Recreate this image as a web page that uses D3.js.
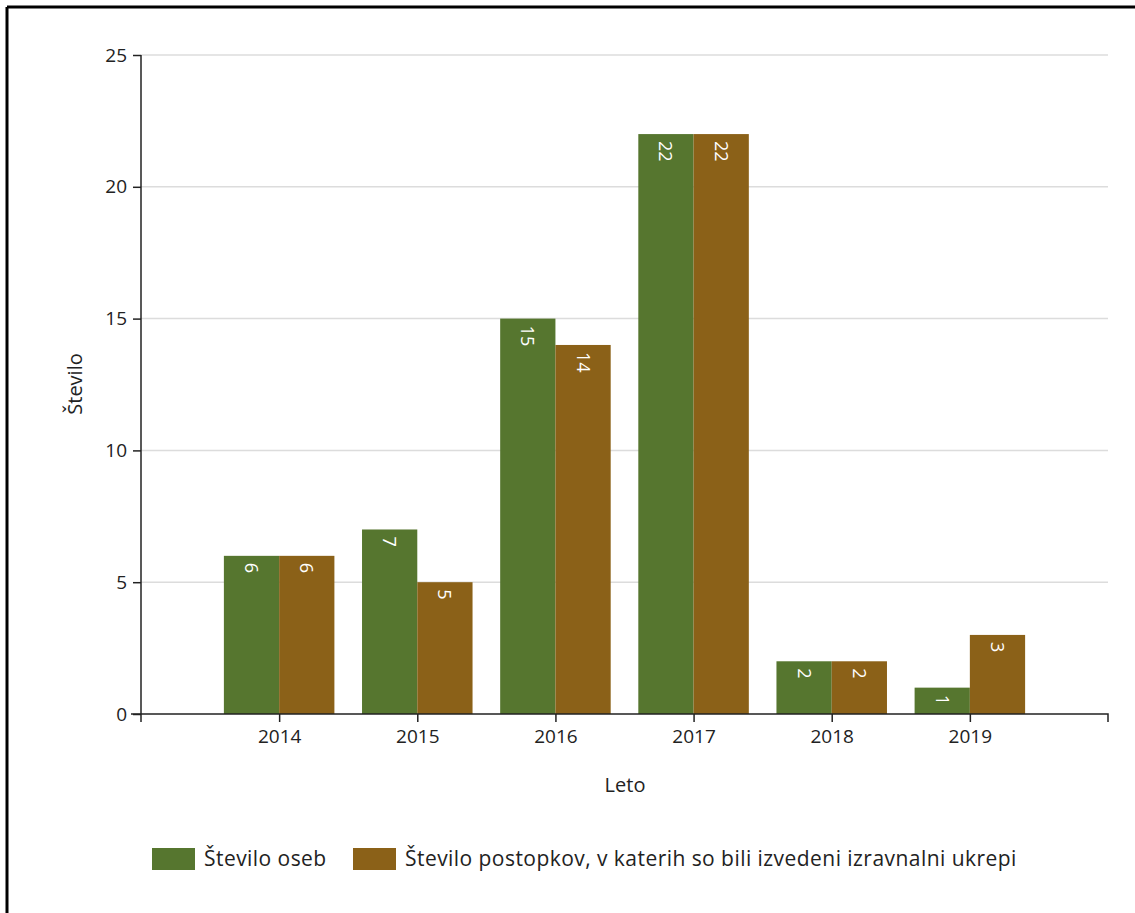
<!DOCTYPE html>
<html>
<head>
<meta charset="utf-8">
<script src="https://cdn.jsdelivr.net/npm/d3@7"></script>
<style>
  html, body { margin: 0; padding: 0; background: #fff; }
  svg { display: block; }
  text { font-family: "Open Sans", "Noto Sans", sans-serif; fill: #222; }
</style>
</head>
<body>
<svg id="chart" width="1135" height="913"></svg>
<script>
const years = ["2014", "2015", "2016", "2017", "2018", "2019"];
const seriesNames = ["Število oseb", "Število postopkov, v katerih so bili izvedeni izravnalni ukrepi"];
const osebe = [6, 7, 15, 22, 2, 1];
const postopki = [6, 5, 14, 22, 2, 3];
const yTicks = [0, 5, 10, 15, 20, 25];
const colors = ["#56762f", "#8b6118"];
const xTitle = "Leto";
const yTitle = "Število";

(function () {
const svg = d3.select("#chart");
const W = 1135, H = 913;

// frame (left and top border)
svg.append("line").attr("x1", 7).attr("x2", W).attr("y1", 7).attr("y2", 7)
  .attr("stroke", "#000").attr("stroke-width", 3);
svg.append("line").attr("x1", 7).attr("x2", 7).attr("y1", 7).attr("y2", H)
  .attr("stroke", "#000").attr("stroke-width", 3);

const pL = 141, pR = 1108, pT = 55, pB = 714;

const x0 = d3.scaleBand().domain(years).range([pL, pR])
  .paddingInner(0.2).paddingOuter(0.6);
const x1 = d3.scaleBand().domain([0, 1]).range([0, x0.bandwidth()]);
const y = d3.scaleLinear().domain([0, 25]).range([pB, pT]);

// grid
svg.append("g").selectAll("line").data(yTicks.filter(d => d > 0)).join("line")
  .attr("x1", pL).attr("x2", pR)
  .attr("y1", d => y(d)).attr("y2", d => y(d))
  .attr("stroke", "#dcdcdc").attr("stroke-width", 1.5);

// bars
const data = years.map((yr, i) => ({ yr, vals: [osebe[i], postopki[i]] }));
const g = svg.append("g");
data.forEach(d => {
  d.vals.forEach((v, s) => {
    const bx = x0(d.yr) + x1(s);
    g.append("rect")
      .attr("x", bx).attr("y", y(v))
      .attr("width", x1.bandwidth()).attr("height", y(0) - y(v))
      .attr("fill", colors[s]);
    const cx = bx + x1.bandwidth() / 2;
    g.append("text")
      .attr("transform", `translate(${cx},${y(v) + 7}) rotate(90)`)
      .attr("text-anchor", "start")
      .attr("dy", "0.36em")
      .style("fill", "#fff")
      .style("font-size", "18px")
      .text(v);
  });
});

// y axis
const yAxis = svg.append("g").attr("transform", `translate(${pL},0)`)
  .call(d3.axisLeft(y).tickValues(yTicks).tickSize(8).tickPadding(6).tickSizeOuter(0));
yAxis.select(".domain").attr("d", `M0,${pT}V${pB + 8}`).attr("stroke", "#222").attr("stroke-width", 1.5);
yAxis.selectAll(".tick line").attr("stroke", "#222").attr("stroke-width", 1.5);
yAxis.selectAll("text").style("font-size", "19px").style("fill", "#222");

// x axis
const xc = d3.scalePoint().domain(years)
  .range([x0(years[0]) + x0.bandwidth() / 2, x0(years[years.length - 1]) + x0.bandwidth() / 2]);
const xAxis = svg.append("g").attr("transform", `translate(0,${pB})`)
  .call(d3.axisBottom(xc).tickSize(8).tickPadding(8).tickSizeOuter(0));
xAxis.select(".domain").attr("d", `M${pL - 10},0H${pR}V8`).attr("stroke", "#222").attr("stroke-width", 1.5);
xAxis.selectAll(".tick line").attr("stroke", "#222").attr("stroke-width", 1.5);
xAxis.selectAll("text").style("font-size", "19px").style("fill", "#222");

// axis titles
svg.append("text").attr("x", 625).attr("y", 792)
  .attr("text-anchor", "middle").style("font-size", "20px").text(xTitle);
svg.append("text").attr("transform", `translate(82,384) rotate(-90)`)
  .attr("text-anchor", "middle").style("font-size", "20px").text(yTitle);

// legend
const legendX = [152, 353];
seriesNames.forEach((name, i) => {
  svg.append("rect").attr("x", legendX[i]).attr("y", 848).attr("width", 43).attr("height", 22)
    .attr("fill", colors[i]);
  svg.append("text").attr("x", legendX[i] + 52).attr("y", 866)
    .style("font-size", "21px").style("letter-spacing", "0.45px").text(name);
});
})();
</script>
</body>
</html>
